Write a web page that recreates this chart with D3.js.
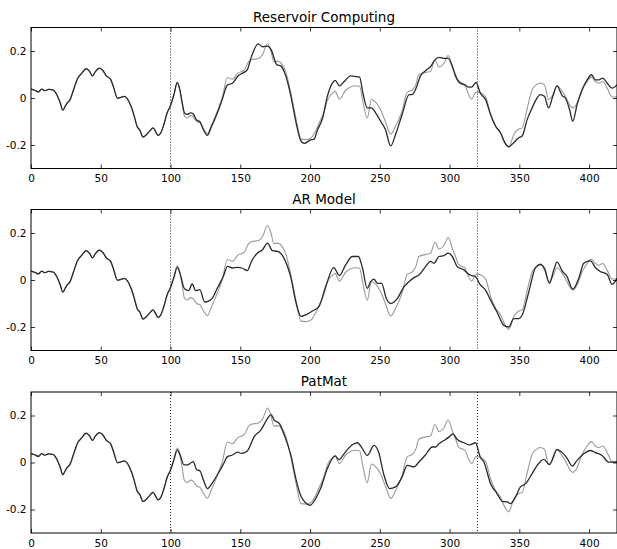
<!DOCTYPE html>
<html>
<head>
<meta charset="utf-8">
<script src="https://cdn.jsdelivr.net/npm/d3@7"></script>
<style>
  body { margin: 0; background: #fff; }
  svg { display: block; font-family: "DejaVu Sans", sans-serif; }
</style>
</head>
<body>
<svg id="viz"></svg>
<script>
// ---- data ----
// true signal, [step, value]
const actual = [
  [0,0.038],[3,0.032],[5.3,0.026],[7.7,0.038],[10,0.031],[12.5,0.037],[16,0.034],[18.5,0.014],
  [21,-0.021],[22.8,-0.052],[24.5,-0.035],[26,-0.021],[28,-0.007],[30.5,0.035],[33.3,0.082],
  [36.5,0.106],[39.5,0.125],[42,0.113],[44,0.094],[46,0.111],[49,0.127],[51.5,0.117],[54,0.094],
  [57,0.08],[59,0.049],[62,-0.001],[64.5,0.003],[67,0.007],[69,-0.003],[71.7,-0.035],[74,-0.077],
  [76,-0.12],[78,-0.137],[80.3,-0.166],[82.7,-0.156],[85,-0.141],[87.5,-0.127],[89.5,-0.145],
  [91,-0.159],[92.8,-0.151],[95.2,-0.113],[97.6,-0.063],[100,-0.032],[102.4,0.014],[104.8,0.062],
  [106.7,0.035],[108.4,-0.025],[110,-0.077],[112,-0.085],[114.4,-0.075],[116.3,-0.08],[118.7,-0.1],
  [121,-0.105],[123.5,-0.13],[126.4,-0.152],[129,-0.12],[133.6,-0.055],[137,0.0],[140.8,0.087],
  [144.4,0.08],[148.4,0.107],[151.6,0.114],[153,0.12],[156,0.155],[158,0.163],[163,0.168],
  [166,0.185],[169.5,0.232],[172,0.2],[174,0.155],[177,0.157],[179,0.15],[182.7,0.11],[186.3,0.02],
  [190,-0.09],[193.5,-0.175],[197,-0.177],[200.7,-0.17],[204,-0.14],[207,-0.1],[210,-0.06],
  [212.4,-0.01],[216,0.02],[218,0.028],[221,-0.005],[225.5,0.033],[229,0.047],[232,0.052],
  [235.5,0.05],[238,-0.02],[241,-0.086],[244,-0.007],[247,-0.018],[250.6,-0.05],[254,-0.1],
  [257.8,-0.153],[261.3,-0.12],[266,-0.055],[269.7,0.025],[273,0.033],[276,0.06],[278,0.1],
  [283,0.109],[286.4,0.114],[289.5,0.162],[292.4,0.132],[296,0.148],[299,0.181],[302,0.134],
  [304.3,0.1],[306.7,0.064],[311,0.052],[313.8,0.012],[315.7,-0.005],[319,0.025],[322,0.022],
  [325.8,0.005],[329.4,-0.07],[333,-0.12],[336.5,-0.148],[339.6,-0.19],[342.5,-0.21],[346,-0.155],
  [349.6,-0.132],[352,-0.127],[355.6,-0.045],[359.2,0.035],[362,0.055],[365,0.064],[368,0.056],
  [371,-0.007],[374,0.014],[377,0.052],[380.7,0.028],[383,0.007],[386,-0.028],[388.3,-0.042],
  [391.4,-0.021],[395,0.035],[398.6,0.07],[401.7,0.089],[404.5,0.07],[407,0.063],[409.8,0.07],
  [413,0.042],[416.5,0.004],[420,0.005]
];

// model outputs from step 100 on
const reservoirPred = [
  [100,-0.032],[102.4,0.014],[104.8,0.066],[106.7,0.035],[108.4,-0.021],[110,-0.063],[112,-0.07],
  [114.4,-0.063],[116.3,-0.068],[118.7,-0.094],[121,-0.1],[123,-0.127],[126.4,-0.159],[129,-0.127],
  [133.6,-0.063],[137,-0.007],[140.8,0.056],[144.4,0.063],[148.4,0.094],[151.6,0.106],[155,0.12],
  [158,0.176],[162.8,0.23],[166,0.218],[169.5,0.221],[172,0.207],[176.3,0.141],[179,0.137],
  [182.7,0.092],[186.3,0.007],[190,-0.106],[193.5,-0.183],[196,-0.193],[200,-0.179],[203,-0.175],
  [205,-0.141],[209,-0.085],[212.4,0.007],[216,0.063],[218,0.075],[221,0.052],[225.5,0.077],
  [229,0.094],[231.5,0.092],[235.5,0.089],[238,0.018],[241,-0.042],[244,-0.042],[247,-0.063],
  [250.6,-0.099],[254,-0.134],[257.8,-0.204],[261.3,-0.155],[266,-0.07],[271,0.014],[273,0.014],
  [276,0.042],[279,0.092],[283,0.117],[286.4,0.134],[289.5,0.162],[292.4,0.173],[296,0.169],
  [299,0.169],[302,0.134],[304.3,0.092],[306.7,0.07],[311,0.056],[313.8,0.046],[315.7,0.046],
  [319,0.066],[322,0.021],[325.8,-0.007],[329.4,-0.07],[333,-0.12],[336.5,-0.148],[339.6,-0.19],
  [342.5,-0.207],[346,-0.19],[349.6,-0.169],[352,-0.162],[355.6,-0.092],[359.2,-0.042],[362,-0.007],
  [365,0.014],[368,0.007],[371,-0.042],[374,0.007],[377,0.052],[380.7,0.01],[383,0.0],[386,-0.049],
  [388.3,-0.099],[391.4,-0.028],[395,0.035],[398.6,0.077],[401.7,0.099],[404.5,0.077],[407,0.077],
  [409.8,0.085],[413,0.063],[416.5,0.042],[420,0.056]
];

const arPred = [
  [100,-0.032],[102.4,0.01],[104.8,0.054],[107,0.023],[110,-0.037],[113,-0.045],[115.5,-0.017],
  [118,-0.045],[121,-0.041],[124.5,-0.094],[126.4,-0.092],[130,-0.077],[133.6,-0.034],[137.9,0.016],
  [140.8,0.058],[144.4,0.051],[148,0.054],[151.6,0.05],[155,0.04],[158,0.079],[162.3,0.115],
  [166,0.129],[169.5,0.157],[173,0.125],[176.8,0.122],[181.5,0.091],[186.3,0.009],[190,-0.098],
  [193.5,-0.155],[197,-0.148],[201.7,-0.132],[206.4,-0.113],[211.2,-0.028],[217,0.053],[221,0.019],
  [225.5,0.064],[230.3,0.1],[234.6,0.1],[237.5,0.053],[241,-0.036],[243.4,-0.007],[245.8,0.004],
  [248.2,-0.014],[251.3,-0.014],[254.7,-0.079],[257.8,-0.1],[262.5,-0.079],[267.3,-0.029],
  [269.7,-0.014],[274.5,0.01],[278,0.021],[282.8,0.057],[286.4,0.079],[288.8,0.071],[292.4,0.1],
  [296,0.104],[299,0.114],[302,0.1],[305.5,0.057],[310.3,0.043],[313.8,0.024],[316,0.019],
  [318.6,0.014],[322,-0.021],[325.8,-0.043],[329.4,-0.086],[334,-0.136],[338.9,-0.193],[342.5,-0.2],
  [346,-0.164],[349.6,-0.164],[352,-0.15],[356.8,-0.05],[361.6,0.053],[365.2,0.067],[368.3,0.043],
  [371.6,-0.014],[374.7,0.043],[377,0.076],[380.7,0.039],[384.2,0.014],[388.3,-0.039],[392.6,0.007],
  [396.2,0.071],[401,0.081],[404.5,0.053],[408,0.036],[412.9,0.024],[416.5,-0.019],[420,0.007]
];

const patmatPred = [
  [100,-0.032],[102.4,0.01],[104.8,0.054],[107,0.03],[109.6,-0.01],[112.5,-0.01],[114.9,0.0],
  [116.3,0.004],[118.7,-0.031],[121,-0.035],[123.5,-0.073],[126.4,-0.111],[130,-0.087],
  [133.6,-0.052],[137.9,-0.007],[140.8,0.025],[144.4,0.032],[148,0.044],[150.9,0.039],[155,0.049],
  [160,0.11],[164.7,0.138],[169.5,0.187],[172,0.204],[174.3,0.18],[178,0.166],[181.5,0.117],
  [186.3,0.03],[190,-0.073],[193.5,-0.144],[197,-0.172],[200,-0.182],[204,-0.154],[207.6,-0.11],
  [212.4,-0.026],[218,0.028],[220.8,0.012],[224.3,0.037],[229.8,0.073],[233.9,0.084],[237.5,0.059],
  [241,0.03],[245.8,0.073],[249,0.047],[253,-0.054],[257,-0.111],[261.3,-0.104],[266,-0.061],
  [269.7,-0.012],[274.5,-0.019],[278,0.002],[282.8,0.033],[287.6,0.066],[290,0.066],[292.4,0.08],
  [297.1,0.098],[299.5,0.108],[302.4,0.122],[305.5,0.098],[310.3,0.084],[314.3,0.075],[318.6,0.084],
  [322,0.023],[324.6,0.002],[329.4,-0.09],[334,-0.132],[337.7,-0.165],[341.3,-0.168],[343.7,-0.175],
  [347.3,-0.146],[350.8,-0.104],[354.5,-0.09],[359.2,-0.047],[362.8,-0.012],[367.6,0.013],
  [371.6,-0.009],[377,0.056],[380.7,0.042],[384.2,0.019],[387.8,-0.015],[391.4,0.009],[396.2,0.037],
  [401,0.051],[404.5,0.042],[409.3,0.03],[414,0.002],[420,0.002]
];

const titles = ['Reservoir Computing', 'AR Model', 'PatMat'];
const predictions = [reservoirPred, arPred, patmatPred];
const xTicks = [0, 50, 100, 150, 200, 250, 300, 350, 400];
const yTicks = [-0.2, 0, 0.2];
const splitSteps = [100, 320];

// ---- layout ----
var width = 617, height = 549;
var left = 31, right = 617;
var panelTops = [27.5, 209.5, 392];
var panelH = 141;

var svg = d3.select('#viz').attr('width', width).attr('height', height);

var xScale = d3.scaleLinear().domain([0, 420]).range([left, right]);

svg.append('defs').append('clipPath').attr('id', 'plotclip')
   .append('rect').attr('x', left).attr('y', 0).attr('width', right - left).attr('height', panelH);

titles.forEach(function(title, i){
    var top = panelTops[i];
    var g = svg.append('g').attr('transform', `translate(0, ${top})`);
    var yScale = d3.scaleLinear().domain([-0.3, 0.3]).range([panelH, 0]);

    // title
    g.append('text')
     .attr('x', (left + right) / 2)
     .attr('y', -6)
     .attr('text-anchor', 'middle')
     .style('font-size', '13.5px')
     .text(title);

    var line = d3.line()
                 .x(d => xScale(d[0]))
                 .y(d => yScale(d[1]))
                 .curve(d3.curveMonotoneX);

    var plot = g.append('g').attr('clip-path', 'url(#plotclip)');

    // split markers
    plot.selectAll('line.split')
        .data(splitSteps)
        .enter().append('line')
        .attr('class', 'split')
        .attr('x1', d => xScale(d)).attr('x2', d => xScale(d))
        .attr('y1', 0).attr('y2', panelH)
        .attr('stroke', '#222')
        .attr('stroke-width', 1)
        .attr('stroke-dasharray', '1,2');

    // true signal
    plot.append('path')
        .datum(actual)
        .attr('d', line)
        .attr('fill', 'none')
        .attr('stroke', '#9a9a9a')
        .attr('stroke-width', 1.1);

    // model output (teacher-forced before step 100)
    var predLine = actual.filter(d => d[0] < 100).concat(predictions[i]);
    plot.append('path')
        .datum(predLine)
        .attr('d', line)
        .attr('fill', 'none')
        .attr('stroke', '#2a2a2a')
        .attr('stroke-width', 1.3);

    // axes
    var xb = g.append('g').attr('transform', `translate(0, ${panelH})`)
              .call(d3.axisBottom(xScale).tickValues(xTicks).tickSizeInner(-4).tickSizeOuter(0).tickPadding(6.5));
    var xt = g.append('g')
              .call(d3.axisTop(xScale).tickValues(xTicks).tickSizeInner(-4).tickSizeOuter(0).tickFormat(''));
    var yl = g.append('g').attr('transform', `translate(${left}, 0)`)
              .call(d3.axisLeft(yScale).tickValues(yTicks).tickSizeInner(-4).tickSizeOuter(0).tickPadding(4.5)
                      .tickFormat(d => d === 0 ? '0' : d3.format('.1f')(d).replace('−', '-')));
    var yr = g.append('g').attr('transform', `translate(${right}, 0)`)
              .call(d3.axisRight(yScale).tickValues(yTicks).tickSizeInner(-4).tickSizeOuter(0).tickFormat(''));

    [xb, xt, yl, yr].forEach(function(a){
        a.select('.domain').remove();
        a.selectAll('.tick line').attr('stroke', '#000').attr('stroke-width', 0.8);
        a.selectAll('text').style('font-size', '10.5px').attr('fill', '#000')
         .style('font-family', '"DejaVu Sans", sans-serif');
    });

    // frame
    g.append('rect')
     .attr('x', left).attr('y', 0)
     .attr('width', right - left).attr('height', panelH)
     .attr('fill', 'none')
     .attr('stroke', '#000')
     .attr('stroke-width', 1);
});
</script>
</body>
</html>
